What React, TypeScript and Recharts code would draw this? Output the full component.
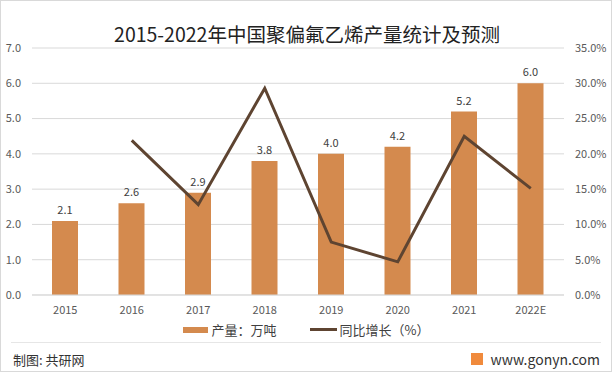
import React from 'react'
import { ComposedChart, Bar, Line, XAxis, YAxis, CartesianGrid, LabelList } from 'recharts'

// 年份、产量（万吨）、同比增长（%）
const years = ['2015', '2016', '2017', '2018', '2019', '2020', '2021', '2022E']
const output = [2.1, 2.6, 2.9, 3.8, 4.0, 4.2, 5.2, 6.0]
const growth = [null, 21.9, 12.8, 29.3, 7.5, 4.7, 22.5, 15.1]
const leftTicks = [0, 1, 2, 3, 4, 5, 6, 7]
const rightTicks = [0, 5, 10, 15, 20, 25, 30, 35]

const data = years.map((y, i) => ({ year: y, output: output[i], growth: growth[i] }))

const FONT = '"Noto Sans CJK SC", "Noto Sans", sans-serif'
const BAR = '#D48A4E'
const LINE = '#5E4431'
const tickStyle = { fontSize: 11, fill: '#595959', fontFamily: FONT }

const LegendBox = () => (
    <div style={{ display: 'flex', justifyContent: 'center', alignItems: 'center', fontFamily: FONT, fontSize: 13, color: '#404040' }}>
        <span style={{ display: 'inline-block', width: 25, height: 6, background: BAR, marginRight: 4 }} />
        <span style={{ marginRight: 33 }}>产量：万吨</span>
        <span style={{ display: 'inline-block', width: 27, height: 3, background: LINE, marginRight: 3 }} />
        <span>同比增长（%）</span>
    </div>
)

const App: React.FC = () => {
    return (
        <div style={{ position: 'absolute', left: 0, top: 0, width: 612, height: 372, background: '#fff', boxSizing: 'border-box', border: '1px solid #d9d9d9', fontFamily: FONT }}>
            <div style={{ position: 'absolute', left: 0, top: 20, width: 612, textAlign: 'center', fontSize: 19.5, color: '#222', lineHeight: '26px' }}>
                2015-2022年中国聚偏氟乙烯产量统计及预测
            </div>
            <div style={{ position: 'absolute', left: -1, top: -1 }}>
                <ComposedChart width={612} height={372} data={data} margin={{ top: 48, right: 0, bottom: 57, left: 0 }}>
                    <CartesianGrid yAxisId="left" vertical={false} stroke="#d9d9d9" />
                    <XAxis dataKey="year" tickLine={false} axisLine={{ stroke: '#d9d9d9' }} tick={tickStyle} tickMargin={5} height={20} interval={0} />
                    <YAxis yAxisId="left" domain={[0, 7]} ticks={leftTicks} width={32} axisLine={false} tickLine={false} tickMargin={5}
                        tick={tickStyle} tickFormatter={(v: number) => v.toFixed(1)} />
                    <YAxis yAxisId="right" orientation="right" domain={[0, 35]} ticks={rightTicks} width={48} axisLine={false} tickLine={false} tickMargin={5}
                        tick={tickStyle} tickFormatter={(v: number) => v.toFixed(1) + '%'} />
                    <Bar yAxisId="left" dataKey="output" fill={BAR} barSize={26} isAnimationActive={false}>
                        <LabelList dataKey="output" position="top" offset={7} formatter={(v: number) => v.toFixed(1)}
                            style={{ fontSize: 11, fill: '#404040', fontFamily: FONT }} />
                    </Bar>
                    <Line yAxisId="right" type="linear" dataKey="growth" stroke={LINE} strokeWidth={3} dot={false} isAnimationActive={false} />
                </ComposedChart>
            </div>
            <div style={{ position: 'absolute', left: 0, top: 319, width: 610 }}>
                <LegendBox />
            </div>
            <div style={{ position: 'absolute', left: 10, right: 10, top: 341, height: 1, background: '#e6e6e6' }} />
            <div style={{ position: 'absolute', left: 12, top: 349, fontSize: 13, color: '#333' }}>制图: 共研网</div>
            <div style={{ position: 'absolute', right: 11, top: 348, fontSize: 14, color: '#333', display: 'flex', alignItems: 'center' }}>
                <span style={{ display: 'inline-block', width: 12, height: 12, background: '#F08A3C', marginRight: 8 }} />
                www.gonyn.com
            </div>
        </div>
    )
}

export default App
